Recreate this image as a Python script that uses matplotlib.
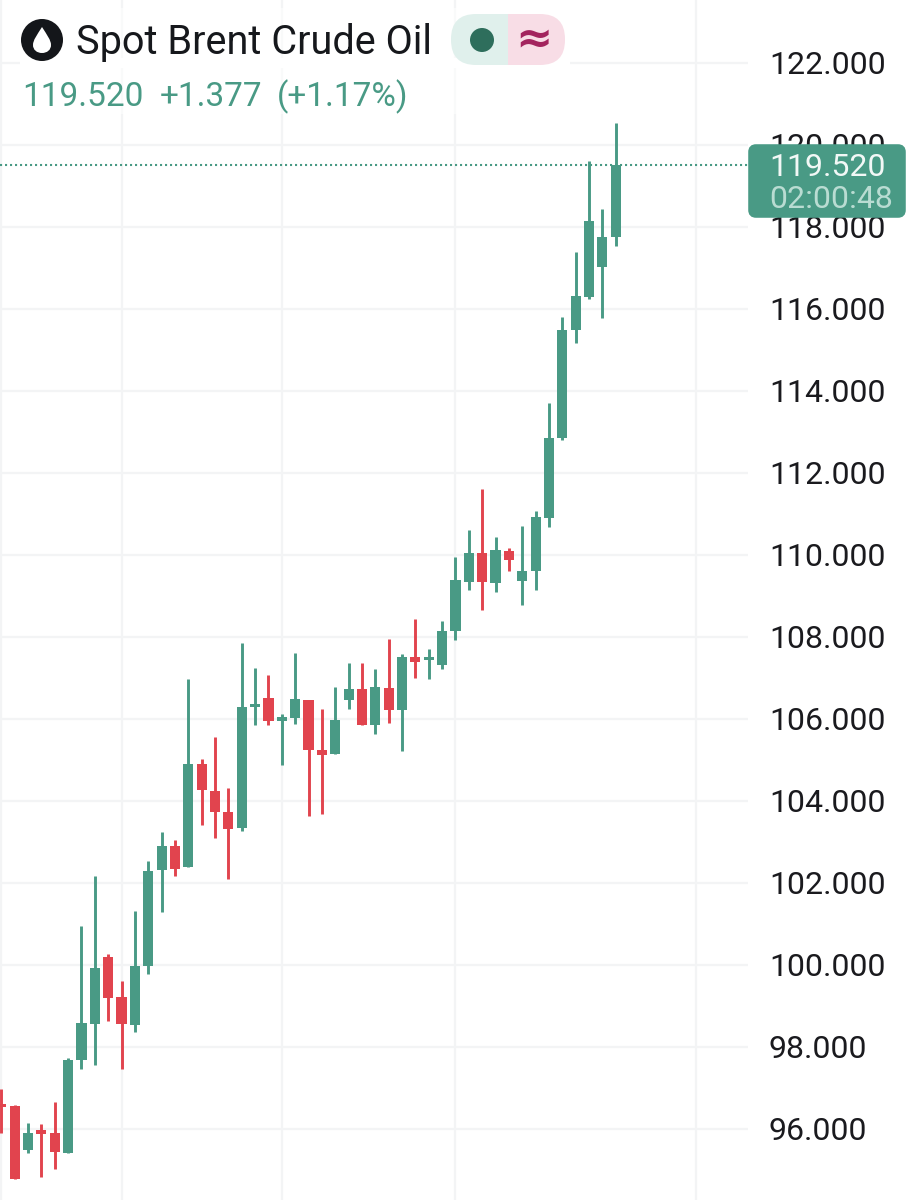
import matplotlib
matplotlib.use("Agg")
import matplotlib.pyplot as plt
from matplotlib.patches import Rectangle, FancyBboxPatch, Circle, PathPatch
from matplotlib.path import Path

opens = [96.58,96.56,95.49,95.93,95.90,95.42,97.68,98.55,100.19,99.21,98.54,99.97,102.32,102.90,102.40,104.90,104.24,103.72,103.35,106.29,106.50,105.96,106.03,106.46,105.24,105.14,106.46,106.73,105.85,106.75,106.23,107.52,107.44,107.32,108.15,109.34,110.06,109.32,110.10,109.37,109.62,110.91,112.86,115.49,116.30,117.02,117.76]
highs = [96.97,96.58,96.14,96.12,96.65,97.73,100.96,102.17,100.26,99.60,101.32,102.53,103.24,103.05,106.97,105.02,105.55,104.31,107.85,107.24,107.07,106.11,107.61,106.46,106.24,106.77,107.37,107.37,107.21,107.95,107.58,108.43,107.71,108.38,109.96,110.60,111.61,110.43,110.17,110.70,111.08,113.70,115.80,117.39,119.61,118.43,120.54]
lows = [95.91,94.77,95.42,94.84,95.02,95.42,97.46,97.56,98.63,97.46,98.36,99.77,101.29,102.18,102.40,103.42,103.09,102.10,103.27,105.85,105.85,104.88,105.87,103.63,103.68,105.14,106.24,105.85,105.64,105.91,105.23,106.99,106.98,107.21,107.93,109.15,108.67,109.09,109.62,108.78,109.15,110.69,112.80,115.16,116.24,115.77,117.54]
closes = [96.54,94.77,95.91,95.89,95.45,97.68,98.58,99.92,99.20,98.55,99.98,102.30,102.90,102.34,104.90,104.26,103.74,103.32,106.29,106.33,105.95,106.00,106.48,105.25,105.13,105.98,106.73,105.85,106.77,106.23,107.52,107.40,107.48,108.15,109.39,110.06,109.35,110.11,109.87,109.60,110.93,112.85,115.49,116.31,118.15,117.76,119.52]
y_ticks = [96, 98, 100, 102, 104, 106, 108, 110, 112, 114, 116, 118, 120, 122]
x_grid = [-1, 8, 20, 33, 51]
last_price = 119.52
title = "Spot Brent Crude Oil"
quote_parts = ["119.520", "+1.377", "(+1.17%)"]
countdown = "02:00:48"

GREEN = "#499a85"
RED = "#e1444e"
GRID = "#f3f4f5"
W, H = 918, 1200

plt.rcParams["font.family"] = ["Roboto", "DejaVu Sans"]
fig = plt.figure(figsize=(W / 100, H / 100), dpi=100, facecolor="white")

ax = fig.add_axes([0, 0, 748 / W, 1])
ax.set_xlim(-1.1, 54.9)
ax.set_ylim(122 - 1137 / 41, 122 + 63 / 41)
for s in ax.spines.values():
    s.set_visible(False)
ax.yaxis.tick_right()
ax.set_yticks(y_ticks, [f"{v:.3f}" for v in y_ticks])
ax.set_xticks(x_grid, [""] * len(x_grid))
ax.tick_params(axis="both", length=0)
ax.tick_params(axis="y", labelsize=23, pad=15, labelcolor="#1a1a1e")
ax.grid(True, color=GRID, linewidth=1.6, zorder=0)
ax.set_axisbelow(True)

for i, (o, h, l, c) in enumerate(zip(opens, highs, lows, closes)):
    x = i - 1
    col = GREEN if c >= o else RED
    ax.plot([x, x], [l, h], color=col, lw=2.1, solid_capstyle="butt", zorder=3)
    lo, hi = min(o, c), max(o, c)
    ax.add_patch(Rectangle((x - 0.38, lo), 0.76, max(hi - lo, 0.08), facecolor=col, edgecolor="none", zorder=4))

ax.axhline(last_price, color=GREEN, lw=1.5, linestyle=(0, (1, 1.4)), zorder=2)

ov = fig.add_axes([0, 0, 1, 1], zorder=5)
ov.set_xlim(0, W)
ov.set_ylim(H, 0)
ov.axis("off")
ov.patch.set_alpha(0)

ov.add_patch(Rectangle((20, 8), 550, 106, facecolor="white", alpha=0.55, edgecolor="none"))
ov.add_patch(Rectangle((20, 58), 550, 10, facecolor="white", edgecolor="none"))

# price tag
ov.add_patch(FancyBboxPatch((751, 147), 152, 68, boxstyle="round,pad=0,rounding_size=5",
                            facecolor=GREEN, edgecolor=GREEN, linewidth=4))
ov.text(769, 167, f"{last_price:.3f}", color="#f2f8f6", fontsize=23, ha="left", va="center")
ov.text(769, 199, countdown, color="#b9dcd2", fontsize=23, ha="left", va="center")

# icon
ov.add_patch(Circle((42, 40), 21, facecolor="#14161a", edgecolor="none"))
drop = Path([(42, 27), (37, 35), (33, 40), (33, 45), (33, 50), (37, 53), (42, 53), (47, 53), (51, 50), (51, 45), (51, 40), (47, 35), (42, 27)],
            [Path.MOVETO] + [Path.CURVE4] * 12)
ov.add_patch(PathPatch(drop, facecolor="white", edgecolor="none"))

ov.text(76, 42, title, color="#16181c", fontsize=28.5, ha="left", va="center")
for s, qx in zip(quote_parts, [22, 160, 277]):
    ov.text(qx, 97, s, color=GREEN, fontsize=24, ha="left", va="center")

# status pill
clip = FancyBboxPatch((451, 14), 114, 51, boxstyle="round,pad=0,rounding_size=25", facecolor="none", edgecolor="none")
ov.add_patch(clip)
left = Rectangle((451, 14), 57, 51, facecolor="#e0f0ec", edgecolor="none")
right = Rectangle((508, 14), 57, 51, facecolor="#f8dde6", edgecolor="none")
ov.add_patch(left)
ov.add_patch(right)
left.set_clip_path(clip)
right.set_clip_path(clip)
ov.add_patch(Circle((482, 40), 12, facecolor="#2e6e5c", edgecolor="none"))
ov.text(534, 39, "≈", color="#a3245e", fontsize=32, ha="center", va="center", fontweight="bold", family="DejaVu Sans")

fig.savefig("out.png", dpi=100, facecolor="white")
